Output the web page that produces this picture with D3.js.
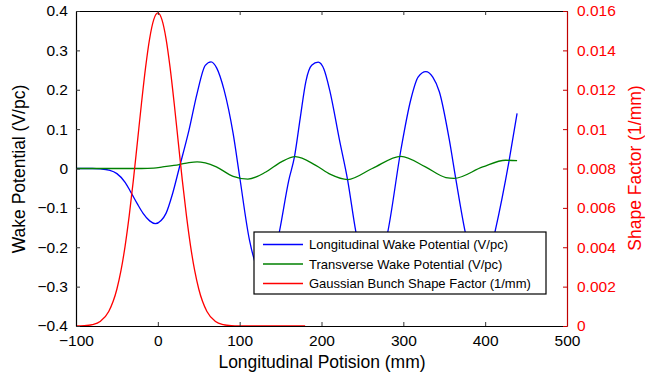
<!DOCTYPE html>
<html>
<head>
<meta charset="utf-8">
<script src="https://cdn.jsdelivr.net/npm/d3@7"></script>
<style>
  body { margin: 0; background: #fff; }
  text { font-family: "Liberation Sans", Arial, sans-serif; }
</style>
</head>
<body>
<div id="chart"></div>
<script>
// Longitudinal wake potential (V/pc)
const longX = [-100, -80, -70, -60, -50, -40, -33, -25, -18, -10, -3, 4, 10, 18, 26, 38, 48, 58, 65, 72, 81, 92, 100, 112, 122, 130, 139, 148.5, 160, 167, 174, 181, 188, 196, 203, 210, 222, 232, 242, 251, 261, 271, 281, 297, 309, 318, 327.5, 336, 344, 356, 364, 375.6, 385, 394, 403, 412, 429, 439];
const longV = [0, 0, -0.001, -0.004, -0.013, -0.035, -0.060, -0.090, -0.114, -0.133, -0.140, -0.132, -0.114, -0.064, 0, 0.097, 0.191, 0.262, 0.271, 0.255, 0.199, 0.089, -0.021, -0.182, -0.255, -0.272, -0.250, -0.161, -0.030, 0.030, 0.128, 0.222, 0.262, 0.270, 0.252, 0.199, 0.072, -0.030, -0.161, -0.245, -0.270, -0.245, -0.161, 0.047, 0.174, 0.232, 0.246, 0.232, 0.195, 0.075, -0.025, -0.161, -0.240, -0.260, -0.240, -0.161, 0.017, 0.140];

// Transverse wake potential (V/pc)
const transX = [-100, -20, -5, 6, 26, 38, 48, 58, 71.5, 92, 110, 132, 151, 168, 193, 211, 232, 262, 297, 327, 352, 362, 397, 425, 439];
const transV = [0, 0, 0.001, 0.004, 0.010, 0.015, 0.017, 0.014, 0.004, -0.020, -0.027, -0.009, 0.017, 0.030, 0.008, -0.015, -0.028, 0, 0.031, 0.004, -0.023, -0.025, 0.004, 0.021, 0.020];

// Gaussian bunch shape factor (1/mm), right axis
const bunchX = [-100, -90, -80, -70, -60, -50, -45, -40, -35, -30, -25, -20, -15, -10, -5, 0, 5, 10, 15, 20, 25, 30, 35, 40, 45, 50, 60, 70, 80, 90, 100, 110, 180];
const bunchV = [0.000003, 0.000016, 0.000067, 0.000243, 0.000736, 0.00188, 0.00282, 0.00406, 0.00559, 0.00737, 0.00933, 0.0113, 0.01312, 0.0146, 0.01556, 0.0159, 0.01556, 0.0146, 0.01312, 0.0113, 0.00933, 0.00737, 0.00559, 0.00406, 0.00282, 0.00188, 0.000736, 0.000243, 0.000067, 0.000016, 0.000003, 0, 0];

const xTicks = [-100, 0, 100, 200, 300, 400, 500];
const leftTicks = [-0.4, -0.3, -0.2, -0.1, 0, 0.1, 0.2, 0.3, 0.4];
const rightTicks = [0, 0.002, 0.004, 0.006, 0.008, 0.01, 0.012, 0.014, 0.016];

const seriesNames = ["Longitudinal Wake Potential (V/pc)", "Transverse Wake Potential (V/pc)", "Gaussian Bunch Shape Factor (1/mm)"];
const seriesColors = ["#0000ff", "#008000", "#ff0000"];

const W = 645, H = 381;
const margin = { top: 11, right: 78, bottom: 55, left: 76 };
const width = W - margin.left - margin.right;
const height = H - margin.top - margin.bottom;

const svg = d3.select("#chart").append("svg")
    .attr("width", W)
    .attr("height", H);

const g = svg.append("g")
    .attr("transform", "translate(" + margin.left + "," + margin.top + ")");

const x = d3.scaleLinear().domain([-100, 500]).range([0, width]);
const yL = d3.scaleLinear().domain([-0.4, 0.4]).range([height, 0]);
const yR = d3.scaleLinear().domain([0, 0.016]).range([height, 0]);

svg.append("defs").append("clipPath").attr("id", "clip")
    .append("rect").attr("width", width).attr("height", height);

// curves
const plot = g.append("g").attr("clip-path", "url(#clip)");

function drawLine(xs, vs, yScale, color) {
    const pts = xs.map((d, i) => [d, vs[i]]);
    plot.append("path")
        .datum(pts)
        .attr("fill", "none")
        .attr("stroke", color)
        .attr("stroke-width", 1.3)
        .attr("d", d3.line()
            .x(d => x(d[0]))
            .y(d => yScale(d[1]))
            .curve(d3.curveMonotoneX));
}
drawLine(longX, longV, yL, seriesColors[0]);
drawLine(transX, transV, yL, seriesColors[1]);
drawLine(bunchX, bunchV, yR, seriesColors[2]);

// axes
const axBottom = g.append("g")
    .attr("transform", "translate(0," + height + ")")
    .call(d3.axisBottom(x).tickValues(xTicks).tickSizeInner(-4).tickSizeOuter(0).tickPadding(9).tickFormat(d3.format("d")));
const axTop = g.append("g")
    .call(d3.axisTop(x).tickValues(xTicks).tickSizeInner(-4).tickSizeOuter(0).tickFormat(""));
const axLeft = g.append("g")
    .call(d3.axisLeft(yL).tickValues(leftTicks).tickSizeInner(-4).tickSizeOuter(0).tickPadding(8).tickFormat(d3.format(".1~f")));
const axRight = g.append("g")
    .attr("transform", "translate(" + width + ",0)")
    .call(d3.axisRight(yR).tickValues(rightTicks).tickSizeInner(-4).tickSizeOuter(0).tickPadding(10).tickFormat(d3.format(".3~f")));

[axBottom, axTop, axLeft].forEach(a => {
    a.selectAll("path").attr("stroke", "#000").attr("stroke-width", 1.2);
    a.selectAll("line").attr("stroke", "#333");
    a.selectAll("text").attr("font-size", 15.5).attr("fill", "#000");
});
axRight.selectAll("path").attr("stroke", "#c00000").attr("stroke-width", 1.2);
axRight.selectAll("line").attr("stroke", "#c00000");
axRight.selectAll("text").attr("font-size", 15.5).attr("fill", "#ff0000");
axRight.raise();

// axis titles
svg.append("text")
    .attr("x", 322)
    .attr("y", 368)
    .attr("text-anchor", "middle")
    .attr("font-size", 17.5)
    .text("Longitudinal Potision (mm)");

svg.append("text")
    .attr("transform", "translate(25,169) rotate(-90)")
    .attr("text-anchor", "middle")
    .attr("font-size", 17.5)
    .text("Wake Potential (V/pc)");

svg.append("text")
    .attr("transform", "translate(641,168) rotate(-90)")
    .attr("text-anchor", "middle")
    .attr("font-size", 17.5)
    .attr("fill", "#ff0000")
    .text("Shape Factor (1/mm)");

// legend
const legend = svg.append("g").attr("transform", "translate(254,232)");
legend.append("rect")
    .attr("width", 292)
    .attr("height", 62)
    .attr("fill", "#fff")
    .attr("stroke", "#000")
    .attr("stroke-width", 1.2);
seriesNames.forEach((name, i) => {
    const row = legend.append("g").attr("transform", "translate(0," + (12.5 + i * 19.5) + ")");
    row.append("line")
        .attr("x1", 9).attr("x2", 49)
        .attr("stroke", seriesColors[i]).attr("stroke-width", 1.3);
    row.append("text")
        .attr("x", 55)
        .attr("dy", "0.35em")
        .attr("font-size", 13)
        .text(name);
});
</script>
</body>
</html>
